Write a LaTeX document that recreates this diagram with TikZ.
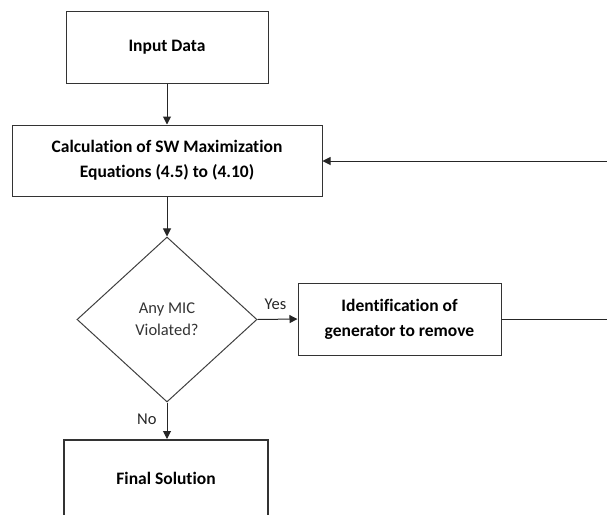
\documentclass[tikz,border=0pt]{standalone}
\usepackage{fontspec}
\setmainfont{Carlito}[Ligatures=NoCommon]
\usetikzlibrary{arrows.meta,shapes.geometric}
\begin{document}
\begin{tikzpicture}[x=1pt,y=-1pt,
  box/.style={draw=black!80,line width=1pt,fill=white,font=\fontsize{17.5}{25}\selectfont\bfseries,align=center,inner sep=0pt},
  finalbox/.style={box,line width=2pt},
  decision/.style={draw=black!75,line width=1pt,diamond,inner sep=0pt,font=\fontsize{16.5}{22}\selectfont,text=black!80,align=center},
  flow/.style={draw=black!85,line width=1pt,-{Triangle[length=8pt,width=8pt]}},
  lbl/.style={font=\fontsize{16.5}{20}\selectfont,text=black!85,inner sep=0pt}]
  \useasboundingbox (0,0) rectangle (607,514);
  \clip (0,0) rectangle (607,514);

  % process boxes
  \node[box,minimum width=202pt,minimum height=72pt] (input) at (167,47) {Input Data};
  \node[box,minimum width=310pt,minimum height=71pt] (calc) at (167,160.5) {Calculation of SW Maximization\\Equations (4.5) to (4.10)};
  \node[decision,minimum width=180pt,minimum height=165pt] (mic) at (167,319.5) {Any MIC\\Violated?};
  \node[box,minimum width=203pt,minimum height=72pt] (ident) at (399.5,319) {Identification of\\generator to remove};
  \node[finalbox,minimum width=204pt,minimum height=76pt] (final) at (166,478) {Final Solution};

  % off-page turning points of the loop back to the calculation step
  \coordinate (loopA) at (625,319);
  \coordinate (loopB) at (625,161);

  % connectors
  \draw[flow] (input) -- (calc);
  \draw[flow] (calc) -- (mic);
  \draw[flow] (mic.east) -- node[lbl,above=9pt,pos=0.45] (yes) {Yes} (ident.west);
  \draw[flow] (mic.south) -- node[lbl,left=10pt,pos=0.45] (no) {No} (final.north -| mic.south);
  \draw[flow] (ident.east) -- (loopA) -- (loopB) -- (calc.east |- loopB);
\end{tikzpicture}
\end{document}
